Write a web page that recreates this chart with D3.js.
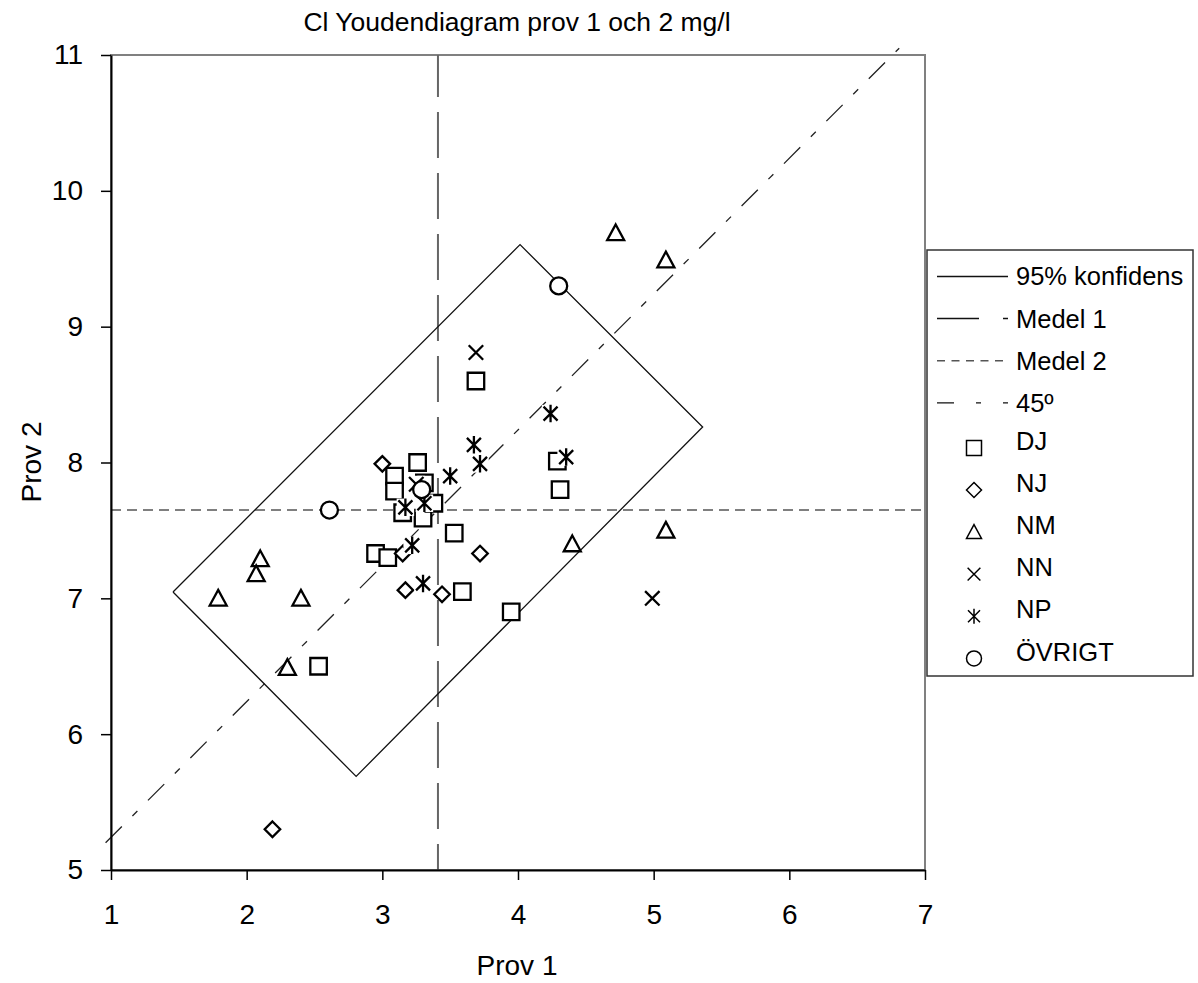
<!DOCTYPE html>
<html>
<head>
<meta charset="utf-8">
<script src="https://cdn.jsdelivr.net/npm/d3@7"></script>
<style>
  html, body { margin: 0; padding: 0; background: #fff; }
  svg { display: block; font-family: "Liberation Sans", Arial, sans-serif; }
</style>
</head>
<body>
<svg id="chart" width="1198" height="983"></svg>
<script>
// Youden diagram, chloride, sample 1 vs sample 2 (mg/l)
const xTicks = [1, 2, 3, 4, 5, 6, 7];
const yTicks = [5, 6, 7, 8, 9, 10, 11];

const medel1 = 3.41;
const medel2 = 7.65;

// 95 % confidence region (corner points)
const konfX = [1.457, 4.015, 5.361, 2.807, 1.457];
const konfY = [7.047, 9.604, 8.261, 5.689, 7.047];

// 45 degree line through the mean point
const line45X = [0.96, 6.81];
const line45Y = [5.20, 11.05];

const djX = [3.26, 3.09, 3.09, 3.31, 3.15, 3.30, 3.38, 3.69, 4.29, 4.31, 3.53, 2.95, 3.04, 3.59, 3.95, 2.53];
const djY = [8.00, 7.90, 7.79, 7.85, 7.63, 7.59, 7.70, 8.60, 8.01, 7.80, 7.48, 7.33, 7.30, 7.05, 6.90, 6.50];

const njX = [3.00, 3.72, 3.15, 3.17, 3.44, 2.19];
const njY = [7.99, 7.33, 7.33, 7.06, 7.03, 5.30];

const nmX = [4.72, 5.09, 4.40, 5.09, 2.10, 2.07, 1.79, 2.40, 2.30];
const nmY = [9.69, 9.49, 7.40, 7.50, 7.29, 7.18, 7.00, 7.00, 6.49];

const nnX = [3.69, 3.25, 4.99];
const nnY = [8.81, 7.84, 7.00];

const npX = [4.24, 3.675, 3.72, 3.50, 4.355, 3.17, 3.31, 3.22, 3.30];
const npY = [8.36, 8.13, 7.99, 7.90, 8.04, 7.67, 7.70, 7.39, 7.11];

const ovrX = [4.30, 2.61, 3.29];
const ovrY = [9.30, 7.65, 7.80];

const seriesNames = ["DJ", "NJ", "NM", "NN", "NP", "ÖVRIGT"];
const lineNames = ["95% konfidens", "Medel 1", "Medel 2", "45º"];

const titleText = "Cl Youdendiagram prov 1 och 2 mg/l";
const xTitle = "Prov 1";
const yTitle = "Prov 2";

const svg = d3.select("#chart");
const L = 111, R = 925, T = 55, B = 870;
const FONT = "'Liberation Sans', Arial, sans-serif";

const x = d3.scaleLinear().domain([1, 7]).range([L, R]);
const y = d3.scaleLinear().domain([5, 11]).range([B, T]);

// plot frame
svg.append("rect").attr("x", L).attr("y", T).attr("width", R - L).attr("height", B - T)
  .attr("fill", "#fff").attr("stroke", "#808080").attr("stroke-width", 2);

const lines = svg.append("g");

// Medel 2 (horizontal)
lines.append("line")
  .attr("x1", x(1)).attr("x2", x(7)).attr("y1", y(medel2)).attr("y2", y(medel2))
  .attr("stroke", "#555").attr("stroke-width", 1.6).attr("stroke-dasharray", "10,6");

// Medel 1 (vertical)
lines.append("line")
  .attr("x1", x(medel1)).attr("x2", x(medel1)).attr("y1", y(5)).attr("y2", y(11))
  .attr("stroke", "#666").attr("stroke-width", 2).attr("stroke-dasharray", "46,15")
  .attr("stroke-dashoffset", 20);

// 45 degree line
lines.append("line")
  .attr("x1", x(line45X[0])).attr("y1", y(line45Y[0]))
  .attr("x2", x(line45X[1])).attr("y2", y(line45Y[1]))
  .attr("stroke", "#222").attr("stroke-width", 1.3).attr("stroke-dasharray", "23,15,7,15");

// confidence region
lines.append("path")
  .datum(d3.zip(konfX, konfY))
  .attr("d", d3.line().x(d => x(d[0])).y(d => y(d[1])))
  .attr("fill", "none").attr("stroke", "#111").attr("stroke-width", 1.3);

// axes
const xAxis = d3.axisBottom(x).tickValues(xTicks).tickSize(10).tickSizeOuter(0).tickPadding(24)
  .tickFormat(d3.format("d"));
const yAxis = d3.axisLeft(y).tickValues(yTicks).tickSize(10).tickSizeOuter(0).tickPadding(18)
  .tickFormat(d3.format("d"));

const gx = svg.append("g").attr("transform", `translate(0,${B})`).call(xAxis);
const gy = svg.append("g").attr("transform", `translate(${L},0)`).call(yAxis);
[gx, gy].forEach(g => {
  g.attr("font-size", null).attr("font-family", null);
  g.select(".domain").attr("stroke", "#000").attr("stroke-width", 2);
  g.selectAll(".tick line").attr("stroke", "#000").attr("stroke-width", 1.5);
  g.selectAll(".tick text").attr("fill", "#000").style("font-size", "28px").style("font-family", FONT);
});

// marker shapes
function markerPath(type, s) {
  const h = s / 2;
  switch (type) {
    case "square": return `M${-h},${-h}H${h}V${h}H${-h}Z`;
    case "diamond": return `M0,${-h}L${h},0L0,${h}L${-h},0Z`;
    case "triangle": return `M0,${-h}L${h},${h * 0.85}L${-h},${h * 0.85}Z`;
    case "cross": { const k = h * 0.85; return `M${-k},${-k}L${k},${k}M${k},${-k}L${-k},${k}`; }
    case "asterisk": { const k = h * 0.8; return `M0,${-h}V${h}M${-k},${-k}L${k},${k}M${k},${-k}L${-k},${k}`; }
    case "circle": return d3.arc()({ innerRadius: 0, outerRadius: h, startAngle: 0, endAngle: 2 * Math.PI });
  }
}

const series = [
  { name: seriesNames[0], xs: djX, ys: djY, type: "square", size: 16.5 },
  { name: seriesNames[1], xs: njX, ys: njY, type: "diamond", size: 15.5 },
  { name: seriesNames[2], xs: nmX, ys: nmY, type: "triangle", size: 17 },
  { name: seriesNames[3], xs: nnX, ys: nnY, type: "cross", size: 17 },
  { name: seriesNames[4], xs: npX, ys: npY, type: "asterisk", size: 17.5 },
  { name: seriesNames[5], xs: ovrX, ys: ovrY, type: "circle", size: 17 }
];

const marks = svg.append("g");
series.forEach(s => {
  const pts = d3.zip(s.xs, s.ys);
  const g = marks.append("g");
  pts.forEach(p => {
    const m = g.append("g").attr("transform", `translate(${x(p[0])},${y(p[1])})`);
    if (s.type === "cross" || s.type === "asterisk") {
      m.append("rect").attr("x", -s.size / 2).attr("y", -s.size / 2)
        .attr("width", s.size).attr("height", s.size).attr("fill", "#fff");
    }
    m.append("path").attr("d", markerPath(s.type, s.size))
      .attr("fill", (s.type === "cross" || s.type === "asterisk") ? "none" : "#fff")
      .attr("stroke", "#000").attr("stroke-width", 2.3);
  });
});

// titles
svg.append("text").attr("x", 517).attr("y", 31).attr("text-anchor", "middle")
  .style("font-size", "26.5px").text(titleText);
svg.append("text").attr("x", 517).attr("y", 975).attr("text-anchor", "middle")
  .style("font-size", "28px").text(xTitle);
svg.append("text").attr("transform", "translate(41,462) rotate(-90)").attr("text-anchor", "middle")
  .style("font-size", "28px").text(yTitle);

// legend
const lg = svg.append("g");
lg.append("rect").attr("x", 927).attr("y", 250).attr("width", 266).attr("height", 426)
  .attr("fill", "#fff").attr("stroke", "#333").attr("stroke-width", 1.5);
const rowY = i => 276.5 + 42.1 * i;
const lineStyles = [
  { dash: null, color: "#111", w: 1.3 },
  { dash: "42,24", color: "#111", w: 1.5 },
  { dash: "8,6.5", color: "#555", w: 1.5 },
  { dash: "17,22,5,22", color: "#111", w: 1.3 }
];
lineNames.forEach((n, i) => {
  const ls = lineStyles[i];
  const l = lg.append("line").attr("x1", 937).attr("x2", 1008).attr("y1", rowY(i)).attr("y2", rowY(i))
    .attr("stroke", ls.color).attr("stroke-width", ls.w);
  if (ls.dash) l.attr("stroke-dasharray", ls.dash);
  lg.append("text").attr("x", 1016).attr("y", rowY(i)).attr("dy", "0.35em")
    .style("font-size", "25.5px").text(n);
});
series.forEach((s, j) => {
  const i = j + 4;
  lg.append("path").attr("transform", `translate(974,${rowY(i) + 3})`)
    .attr("d", markerPath(s.type, 15))
    .attr("fill", (s.type === "cross" || s.type === "asterisk") ? "none" : "#fff")
    .attr("stroke", "#000").attr("stroke-width", 1.5);
  lg.append("text").attr("x", 1016).attr("y", rowY(i)).attr("dy", "0.2em")
    .style("font-size", "25.5px").text(s.name);
});
</script>
</body>
</html>
